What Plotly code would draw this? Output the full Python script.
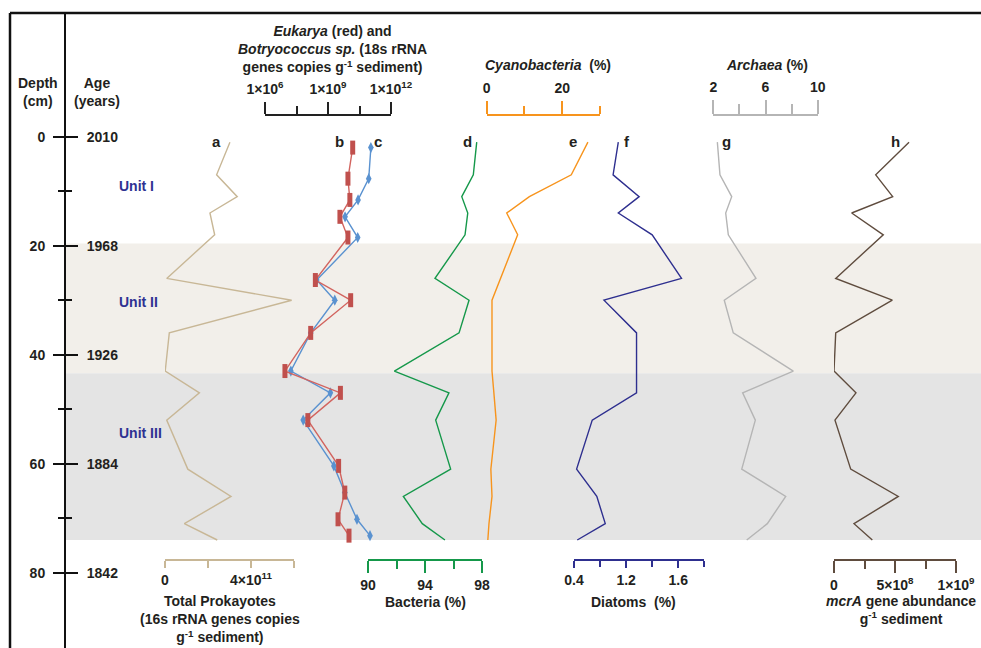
import plotly.graph_objects as go

W, H = 981, 648
FONT = "Liberation Sans, Arial, sans-serif"
TXT = "#231f20"

# ---------------- data ----------------
DEPTH = [1, 7, 11, 14, 18, 26, 30, 36, 43, 47, 52, 61, 66, 71, 74]
EUK_DEPTH = [2, 7.7, 11.6, 14.7, 18.5, 26.3, 30, 36, 43, 47, 52, 60.4, 65.3, 70.2, 73.2]

PROKARYOTES = [3.02e11, 2.40e11, 3.36e11, 2.09e11, 2.31e11, 0.08e11, 5.89e11, 0.20e11,
               0.01e11, 1.60e11, 0.08e11, 1.06e11, 3.07e11, 0.90e11, 2.43e11]
EUKARYA = [1.5e10, 8.9e9, 1.1e10, 3.7e9, 8.9e9, 2.5e8, 1.2e10, 1.5e8,
           8.9e6, 3.9e9, 1.1e8, 3.2e9, 6.3e9, 3.0e9, 1.0e10]
BOTRYO = [1.1e11, 8.7e10, 2.7e10, 6.5e9, 2.6e10, 2.9e8, 2.1e9, 1.5e8,
          1.7e7, 1.3e9, 6.6e7, 1.9e9, 6.3e9, 2.4e10, 1.0e11]
BACTERIA = [97.63, 97.39, 96.58, 97.0, 96.81, 94.70, 97.09, 96.39,
            91.85, 95.68, 94.75, 95.80, 92.48, 93.81, 95.40]
CYANO = [26.8, 22.4, 11.3, 5.3, 8.2, 3.7, 1.4, 1.4, 1.4, 1.9, 2.5, 1.1, 1.4, 0.6, 0.3]
DIATOMS = [1.14, 1.10, 1.30, 1.14, 1.40, 1.625, 1.03, 1.28, 1.28, 1.28, 0.94, 0.82, 0.975, 1.04, 0.825]
ARCHAEA = [2.31, 2.51, 3.41, 2.95, 3.15, 5.27, 2.84, 3.53, 8.13, 4.25, 5.22, 4.18, 7.55, 6.14, 4.56]
MCRA = [6.15e8, 3.42e8, 4.81e8, 1.45e8, 4.04e8, 0.14e8, 4.78e8, 0.14e8,
        0.0, 1.80e8, 0.08e8, 1.37e8, 5.27e8, 1.64e8, 3.14e8]

DEPTH_TICKS = [0, 20, 40, 60, 80]
DEPTH_MINOR = [10, 30, 50, 70]
AGE_LABELS = ["2010", "1968", "1926", "1884", "1842"]
UNIT_BOUNDS = [19.6, 43.4, 74.0]

PROK_TICKS = [0, 4e11]; PROK_LABELS = ["0", "4×10<sup>11</sup>"]; PROK_MINOR = [2e11, 6e11]
EUK_TICKS = [1e6, 1e9, 1e12]
EUK_LABELS = ["1×10<sup>6</sup>", "1×10<sup>9</sup>", "1×10<sup>12</sup>"]
EUK_MINOR = [10 ** 7.5, 10 ** 10.5]
BAC_TICKS = [90, 94, 98]; BAC_MINOR = [92, 96]
CYA_TICKS = [0, 20]; CYA_MINOR = [10, 30]
DIA_TICKS = [0.8, 1.2, 1.6]; DIA_LABELS = ["0.4", "1.2", "1.6"]; DIA_MINOR = [1.0, 1.4, 1.8]
ARC_TICKS = [2, 6, 10]; ARC_MINOR = [4, 8]
MCR_TICKS = [0, 5e8, 1e9]; MCR_LABELS = ["0", "5×10<sup>8</sup>", "1×10<sup>9</sup>"]; MCR_MINOR = [2.5e8, 7.5e8]

C_PROK = "#c8b796"
C_RED = "#c0504d"
C_RED_L = "#d2645f"
C_BLUE = "#5a92d0"
C_BAC = "#15984a"
C_CYA = "#f7941d"
C_DIA = "#2e2f8f"
C_ARC = "#b5b5b5"
C_MCR = "#5f4c3e"
C_UNIT = "#2e3192"

# ---------------- helpers (layout geometry) ----------------
def px(x):
    return x / W

def py(y):
    return 1 - y / H

Y_TOP_PX, PX_PER_CM, Y0_PX = 13, 5.45, 136.7
Y_RANGE = [(H - Y0_PX) / PX_PER_CM, (Y_TOP_PX - Y0_PX) / PX_PER_CM]
TOP_AX = 114.5
BOT_AX = 560


def xax(x0, x1, rng, side, ypos, color, tickvals, ticktext, ticklen, minor_vals, minor_len, typ="linear"):
    return dict(
        domain=[px(x0), px(x1)], range=rng, type=typ, side=side, anchor="free", position=py(ypos),
        showline=True, linecolor=color, linewidth=1.6, ticks="outside", tickcolor=color,
        tickwidth=1.6, ticklen=ticklen, tickvals=tickvals, ticktext=ticktext,
        tickfont=dict(family=FONT, size=14, color=TXT, weight="bold"),
        ticklabelstandoff=(2 if side == "top" else 0),
        minor=dict(tickvals=minor_vals, ticklen=minor_len, tickcolor=color, tickwidth=1.6, ticks="outside"),
        showgrid=False, zeroline=False, fixedrange=True, automargin=False,
    )


fig = go.Figure()

fig.add_trace(go.Scatter(x=PROKARYOTES, y=DEPTH, xaxis="x", yaxis="y", mode="lines",
                         line=dict(color=C_PROK, width=1.4), showlegend=False))
fig.add_trace(go.Scatter(x=BOTRYO, y=EUK_DEPTH, xaxis="x2", yaxis="y", mode="lines+markers",
                         line=dict(color=C_BLUE, width=1.4),
                         marker=dict(symbol="diamond-tall", size=8, color=C_BLUE), showlegend=False))
fig.add_trace(go.Scatter(x=EUKARYA, y=EUK_DEPTH, xaxis="x2", yaxis="y", mode="lines+markers",
                         line=dict(color=C_RED_L, width=1.4),
                         marker=dict(symbol="line-ns", size=10, line=dict(width=5, color=C_RED)),
                         showlegend=False))
fig.add_trace(go.Scatter(x=BACTERIA, y=DEPTH, xaxis="x3", yaxis="y", mode="lines",
                         line=dict(color=C_BAC, width=1.4), showlegend=False))
fig.add_trace(go.Scatter(x=CYANO, y=DEPTH, xaxis="x4", yaxis="y", mode="lines",
                         line=dict(color=C_CYA, width=1.4), showlegend=False))
fig.add_trace(go.Scatter(x=DIATOMS, y=DEPTH, xaxis="x5", yaxis="y", mode="lines",
                         line=dict(color=C_DIA, width=1.4), showlegend=False))
fig.add_trace(go.Scatter(x=ARCHAEA, y=DEPTH, xaxis="x6", yaxis="y", mode="lines",
                         line=dict(color=C_ARC, width=1.4), showlegend=False))
fig.add_trace(go.Scatter(x=MCRA, y=DEPTH, xaxis="x7", yaxis="y", mode="lines",
                         line=dict(color=C_MCR, width=1.4), showlegend=False))
# age axis carrier (no marks)
fig.add_trace(go.Scatter(x=[None], y=[None], xaxis="x", yaxis="y2", mode="lines", showlegend=False,
                         hoverinfo="skip"))

ytick_font = dict(family=FONT, size=14, color=TXT, weight="bold")
layout = dict(
    width=W, height=H, margin=dict(l=0, r=0, t=0, b=0, pad=0), autosize=False,
    paper_bgcolor="white", plot_bgcolor="rgba(0,0,0,0)", showlegend=False,
    yaxis=dict(domain=[0, py(Y_TOP_PX)], range=Y_RANGE, anchor="free", position=px(65), side="left",
               showline=True, linecolor="#111", linewidth=2, ticks="outside", ticklen=11, tickwidth=2,
               tickcolor="#111", tickvals=DEPTH_TICKS, tickfont=ytick_font, ticklabelstandoff=5,
               minor=dict(tickvals=DEPTH_MINOR, ticklen=6, tickwidth=2, tickcolor="#111", ticks="outside"),
               showgrid=False, zeroline=False, fixedrange=True, automargin=False),
    yaxis2=dict(domain=[0, py(Y_TOP_PX)], range=Y_RANGE, anchor="free", position=px(65), side="right",
                overlaying="y", showline=False, ticks="outside", ticklen=12, tickwidth=2, tickcolor="#111",
                tickvals=DEPTH_TICKS, ticktext=AGE_LABELS, tickfont=ytick_font, ticklabelstandoff=6,
                minor=dict(tickvals=DEPTH_MINOR, ticklen=6, tickwidth=2, tickcolor="#111", ticks="outside"),
                showgrid=False, zeroline=False, fixedrange=True, automargin=False),
    xaxis=xax(165, 294, [0, 6e11], "bottom", BOT_AX, C_PROK, PROK_TICKS, PROK_LABELS, 7, PROK_MINOR, 7),
    xaxis2=xax(265, 391, [6, 12], "top", TOP_AX, "#222", EUK_TICKS, EUK_LABELS, 12, EUK_MINOR, 8, "log"),
    xaxis3=xax(368, 482, [90, 98], "bottom", BOT_AX, C_BAC, BAC_TICKS, [str(v) for v in BAC_TICKS], 12, BAC_MINOR, 8),
    xaxis4=xax(486.7, 600, [0, 30], "top", TOP_AX, C_CYA, CYA_TICKS, [str(v) for v in CYA_TICKS], 13, CYA_MINOR, 8),
    xaxis5=xax(574, 704.3, [0.8, 1.8], "bottom", BOT_AX, C_DIA, DIA_TICKS, DIA_LABELS, 7, DIA_MINOR, 6),
    xaxis6=xax(713.3, 817.7, [2, 10], "top", TOP_AX, C_ARC, ARC_TICKS, [str(v) for v in ARC_TICKS], 14, ARC_MINOR, 10),
    xaxis7=xax(834, 956, [0, 1e9], "bottom", BOT_AX, C_MCR, MCR_TICKS, MCR_LABELS, 12, MCR_MINOR, 8),
)
fig.update_layout(**layout)

# unit bands
fig.add_shape(type="rect", xref="paper", yref="y", x0=px(65), x1=1, y0=UNIT_BOUNDS[0], y1=UNIT_BOUNDS[1],
              fillcolor="#f2efea", line=dict(width=0), layer="below")
fig.add_shape(type="rect", xref="paper", yref="y", x0=px(65), x1=1, y0=UNIT_BOUNDS[1], y1=UNIT_BOUNDS[2],
              fillcolor="#e4e4e4", line=dict(width=0), layer="below")
# frame
fig.add_shape(type="line", xref="paper", yref="paper", x0=px(10), x1=px(10), y0=0, y1=py(13),
              line=dict(color="#111", width=2.5))
fig.add_shape(type="line", xref="paper", yref="paper", x0=px(10), x1=1, y0=py(13), y1=py(13),
              line=dict(color="#111", width=2.5))


def ann(text, x, y, size=14, color=TXT, xanchor="center"):
    fig.add_annotation(text=text, x=px(x), y=py(y), xref="paper", yref="paper", showarrow=False,
                       xanchor=xanchor, yanchor="middle", align="center",
                       font=dict(family=FONT, size=size, color=color, weight="bold"))


ann("Depth<br>(cm)", 38, 92)
ann("Age<br>(years)", 97, 92)
ann("<i>Eukarya</i> (red) and<br><i>Botryococcus sp.</i> (18s rRNA<br>genes copies g<sup>-1</sup> sediment)", 332, 49)
ann("<i>Cyanobacteria</i>  (%)", 548, 65)
ann("<i>Archaea</i> (%)", 767, 65)
ann("Total Prokayotes<br>(16s rRNA genes copies<br>g<sup>-1</sup> sediment)", 220, 619)
ann("Bacteria (%)", 425, 602)
ann("Diatoms  (%)", 633, 602)
ann("<i>mcrA</i> gene abundance<br>g<sup>-1</sup> sediment", 901, 610)

for lab, x in zip("abcdefgh", [216, 339, 378, 467, 573, 627, 726, 895]):
    ann(lab, x, 142, size=15)

ann("Unit I", 136, 186, color=C_UNIT)
ann("Unit II", 138, 302, color=C_UNIT)
ann("Unit III", 140, 433, color=C_UNIT)

fig.write_html("out.html", config={"displayModeBar": False},
               post_script="document.body.style.margin='0';")
